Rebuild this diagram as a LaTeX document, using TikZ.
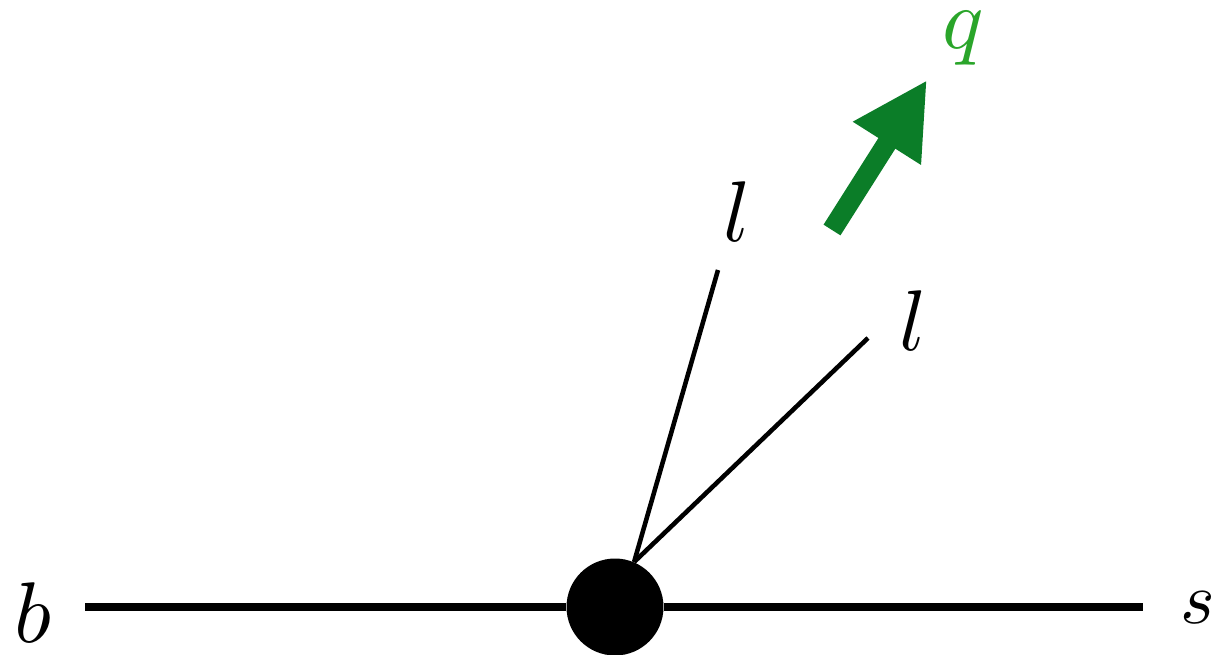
\documentclass[tikz,border=0pt]{standalone}
\usepackage{tikz}
\usetikzlibrary{arrows.meta,positioning}
\definecolor{qArrow}{HTML}{0B7D28}
\definecolor{qText}{HTML}{2AA52A}

\begin{document}
\begin{tikzpicture}[x=0.02cm,y=-0.02cm,
  lab/.style={inner sep=0pt,scale=4.9},
  leg/.style={line width=2.6pt},
  prop/.style={line width=4pt},
  mom/.style={-{Triangle[length=1.5cm,width=1.5cm]},qArrow,line width=0.4cm}]
\useasboundingbox (0,0) rectangle (1214,655);
\node[circle,fill=black,inner sep=0pt,minimum size=1.94cm] (v) at (615,607) {};
\coordinate (bl) at (85,607);
\coordinate (sr) at (1143,607);
\coordinate (e1) at (718,270);
\coordinate (e2) at (868,338);
\coordinate (qa) at (832,230);
\coordinate (qb) at (927,80);
\node[lab] (b) at (33,613) {$b$};
\node[lab,scale=4.2/4.9] (s) at (1198,608) {$s$};
\node[lab] (l1) at (737,212) {$l$};
\node[lab] (l2) at (913,321) {$l$};
\node[lab,text=qText] (q) at (963,38) {$q$};
\draw[prop] (bl) -- (v);
\draw[prop] (v) -- (sr);
\draw[leg] (v.67) -- (e1);
\draw[leg] (v.67) -- (e2);
\draw[mom] (qa) -- (qb);
\end{tikzpicture}
\end{document}
